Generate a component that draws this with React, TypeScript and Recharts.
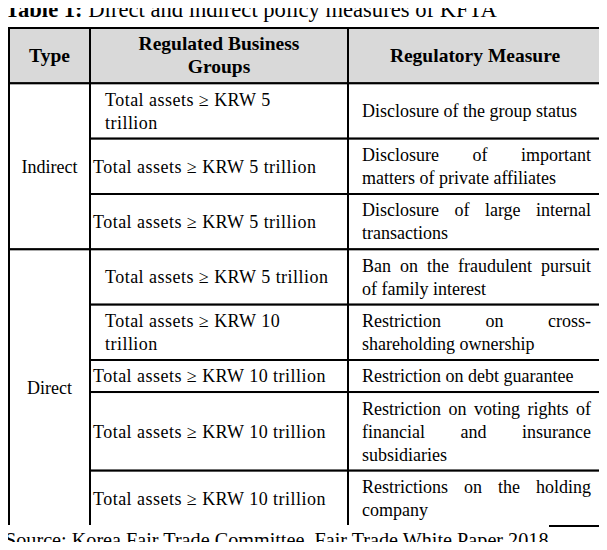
import { ComposedChart, ReferenceArea, XAxis, YAxis } from "recharts";

const TITLE_LABEL = "Table 1:";
const TITLE = "Direct and indirect policy measures of KFTA";
const SOURCE = "Source: Korea Fair Trade Committee, Fair Trade White Paper 2018";

const headers = ["Type", "Regulated Business\nGroups", "Regulatory Measure"];
const typeLabels = ["Indirect", "Direct"];
const typeSpans = [3, 5];
const groups = [
  "Total assets ≥ KRW 5\ntrillion",
  "Total assets ≥ KRW 5 trillion",
  "Total assets ≥ KRW 5 trillion",
  "Total assets ≥ KRW 5 trillion",
  "Total assets ≥ KRW 10\ntrillion",
  "Total assets ≥ KRW 10 trillion",
  "Total assets ≥ KRW 10 trillion",
  "Total assets ≥ KRW 10 trillion",
];
const measures = [
  "Disclosure of the group status",
  "Disclosure of important\nmatters of private affiliates",
  "Disclosure of large internal\ntransactions",
  "Ban on the fraudulent pursuit\nof family interest",
  "Restriction on cross-\nshareholding ownership",
  "Restriction on debt guarantee",
  "Restriction on voting rights of\nfinancial and insurance\nsubsidiaries",
  "Restrictions on the holding\ncompany",
];

// layout
const W = 607;
const H = 550;
const MARGIN = { top: 28, left: 9, right: 5, bottom: 24 };
const COL_W = [81, 258, 254];
const ROW_PAD = 0.375; // extra row height, in text lines
const LINE_H = 23;
const FONT_SIZE = 18;
const HEADER_FONT_SIZE = 19.5;
const BASE_OFFSET = 6.3;
const FONT = "'Liberation Serif', 'Times New Roman', serif";
const INDENT_ROWS = [0, 3, 4];
const HEADER_FILL = "#d9d9d9";

const lineCount = (s: string) => s.split("\n").length;

const headerUnits = Math.max(...headers.map(lineCount)) + ROW_PAD;
const rowUnits = groups.map(
  (g, i) => Math.max(lineCount(g), lineCount(measures[i])) + ROW_PAD
);
const rowStart: number[] = [];
let acc = headerUnits;
rowUnits.forEach((u) => {
  rowStart.push(acc);
  acc += u;
});
const totalUnits = acc;
const colStart = COL_W.map((_, i) => COL_W.slice(0, i).reduce((a, b) => a + b, 0));
const tableWidth = COL_W.reduce((a, b) => a + b, 0);

let measureCtx: CanvasRenderingContext2D | null = null;
function measure(text: string, font: string): number {
  if (!measureCtx) measureCtx = document.createElement("canvas").getContext("2d");
  if (!measureCtx) return text.length * 8;
  measureCtx.font = font;
  return measureCtx.measureText(text).width;
}

type Align = "center" | "left" | "justify";

interface CellProps {
  x?: number;
  y?: number;
  width?: number;
  height?: number;
  text: string;
  align: Align;
  padLeft?: number;
  padRight?: number;
  bold?: boolean;
  fill?: string;
  size?: number;
  spacing?: number;
}

function TableCell({
  x = 0,
  y = 0,
  width = 0,
  height = 0,
  text,
  align,
  padLeft = 0,
  padRight = 0,
  bold = false,
  fill = "#fff",
  size = FONT_SIZE,
  spacing = 0,
}: CellProps) {
  const lines = text.split("\n");
  const cy = y + height / 2;
  const font = `${bold ? "bold " : ""}${size}px ${FONT}`;
  const textStyle = {
    fontFamily: FONT,
    fontSize: size,
    fontWeight: bold ? 700 : 400,
    letterSpacing: spacing,
  } as const;
  const left = x + padLeft;
  const right = x + width - padRight;

  return (
    <g>
      <rect x={x} y={y} width={width} height={height} fill={fill} stroke="#000" strokeWidth={2} />
      {lines.map((line, i) => {
        const by = cy + (i - (lines.length - 1) / 2) * LINE_H + BASE_OFFSET;
        if (align === "center") {
          return (
            <text key={i} x={x + width / 2} y={by} textAnchor="middle" fill="#000" style={textStyle}>
              {line}
            </text>
          );
        }
        const isLast = i === lines.length - 1;
        const words = line.split(" ");
        if (align === "justify" && !isLast && words.length > 1) {
          const ws = words.map((w) => measure(w, font));
          const gap = (right - left - ws.reduce((a, b) => a + b, 0)) / (words.length - 1);
          let cx = left;
          return (
            <text key={i} y={by} fill="#000" style={textStyle}>
              {words.map((w, j) => {
                const tx = cx;
                cx += ws[j] + gap;
                return (
                  <tspan key={j} x={tx}>
                    {w}
                  </tspan>
                );
              })}
            </text>
          );
        }
        return (
          <text key={i} x={left} y={by} fill="#000" style={textStyle}>
            {line}
          </text>
        );
      })}
    </g>
  );
}

function cellArea(
  key: string,
  x1: number,
  x2: number,
  y1: number,
  y2: number,
  cell: Omit<CellProps, "x" | "y" | "width" | "height">
) {
  return (
    <ReferenceArea
      key={key}
      x1={x1}
      x2={x2}
      y1={y1}
      y2={y2}
      ifOverflow="visible"
      shape={(p: any) => (
        <TableCell x={p.x} y={p.y} width={p.width} height={p.height} {...cell} />
      )}
    />
  );
}

export default function App() {
  const areas: JSX.Element[] = [];

  headers.forEach((h, c) => {
    areas.push(
      cellArea(`h${c}`, colStart[c], colStart[c] + COL_W[c], 0, headerUnits, {
        text: h,
        align: "center",
        bold: true,
        fill: HEADER_FILL,
        size: HEADER_FONT_SIZE,
      })
    );
  });

  let r0 = 0;
  typeLabels.forEach((t, k) => {
    const r1 = r0 + typeSpans[k] - 1;
    areas.push(
      cellArea(`t${k}`, colStart[0], colStart[0] + COL_W[0], rowStart[r0], rowStart[r1] + rowUnits[r1], {
        text: t,
        align: "center",
      })
    );
    r0 = r1 + 1;
  });

  groups.forEach((g, r) => {
    const y1 = rowStart[r];
    const y2 = y1 + rowUnits[r];
    areas.push(
      cellArea(`g${r}`, colStart[1], colStart[1] + COL_W[1], y1, y2, {
        text: g,
        align: "left",
        padLeft: INDENT_ROWS.includes(r) ? 15 : 3,
        spacing: 0.47,
      })
    );
    areas.push(
      cellArea(`m${r}`, colStart[2], colStart[2] + COL_W[2], y1, y2, {
        text: measures[r],
        align: "justify",
        padLeft: 14,
        padRight: 11,
      })
    );
  });

  return (
    <div
      style={{
        position: "relative",
        width: W,
        height: H,
        margin: -8,
        background: "#fff",
        fontFamily: FONT,
        color: "#000",
        overflow: "hidden",
      }}
    >
      <ComposedChart width={W} height={H} data={[]} margin={MARGIN}>
        <XAxis type="number" dataKey="x" hide domain={[0, tableWidth]} allowDataOverflow />
        <YAxis type="number" dataKey="y" hide reversed domain={[0, totalUnits]} allowDataOverflow />
        {areas}
      </ComposedChart>
      <div
        style={{
          position: "absolute",
          left: 5,
          top: 0,
          fontSize: 22.6,
          lineHeight: "20px",
          whiteSpace: "nowrap",
          zIndex: 1,
        }}
      >
        <b>{TITLE_LABEL}</b> {TITLE}
      </div>
      <div
        style={{
          position: "absolute",
          left: 0,
          top: 525,
          width: 549,
          height: 25,
          boxSizing: "border-box",
          paddingLeft: 5,
          paddingTop: 5,
          fontSize: 20.2,
          lineHeight: "20px",
          whiteSpace: "nowrap",
          background: "#fff",
          zIndex: 1,
        }}
      >
        {SOURCE}
      </div>
    </div>
  );
}
